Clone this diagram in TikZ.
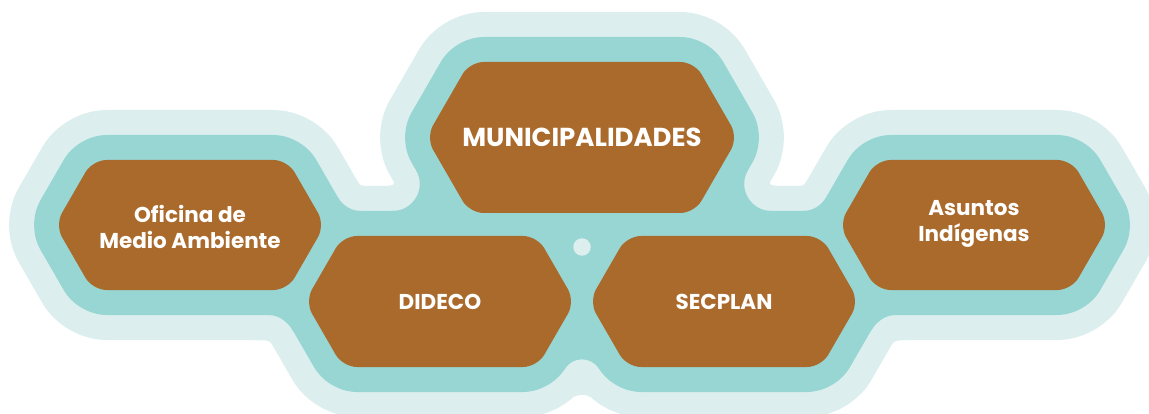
\documentclass[tikz,border=0pt]{standalone}
\usepackage{fontspec}
\setmainfont{Poppins}[BoldFont={Poppins Bold}]
\definecolor{brn}{HTML}{AA6A2C}
\definecolor{medteal}{HTML}{98D6D3}
\definecolor{lightteal}{HTML}{DCEFEE}
\newcommand\hexpath[4]{({#1-#3},#2) -- ({#1-#3+0.57735*#4},{#2-#4}) -- ({#1+#3-0.57735*#4},{#2-#4}) -- ({#1+#3},#2) -- ({#1+#3-0.57735*#4},{#2+#4}) -- ({#1-#3+0.57735*#4},{#2+#4}) -- cycle}
\begin{document}
\begin{tikzpicture}[x=1pt,y=-1pt,
  halolight/.style={fill=lightteal,draw=lightteal,line width=100pt,line join=round,rounded corners=14pt},
  halomed/.style={fill=medteal,draw=medteal,line width=50pt,line join=round,rounded corners=14pt},
  hexbody/.style={fill=brn,rounded corners=14pt},
  lbl/.style={text=white,font=\bfseries\fontsize{21.5}{25.5}\selectfont,align=center,inner sep=0pt},
  biglbl/.style={text=white,font=\bfseries\fontsize{26}{30}\selectfont,inner sep=0pt}]
\useasboundingbox (0,0) rectangle (1149,414);
\clip (0,0) rectangle (1149,414);
\def\hexlist{190/225/135/65, 582/137.5/156/75.5, 440/301.5/135/65.5, 724/301.5/135/65.5, 974/225/135/65}
% light outer halo
\foreach \cx/\cy/\w/\h in \hexlist { \path[halolight] \hexpath{\cx}{\cy}{\w}{\h}; }
\fill[lightteal] (356.2,179.1) .. controls (360.2,186) .. (368.2,186) -- (368,195) -- (349,190) -- cycle;
\fill[lightteal] (807.8,179.1) .. controls (803.8,186) .. (795.8,186) -- (796,195) -- (815,190) -- cycle;
\fill[lightteal] (377,186) .. controls (397.8,186) .. (387,169.5) -- (407,175) -- (407,190) -- cycle;
\fill[lightteal] (787,186) .. controls (766.2,186) .. (777,169.5) -- (757,175) -- (757,190) -- cycle;
\fill[lightteal] (255,340) .. controls (271,340.3) .. (277,353) -- (287,340) -- (267,330) -- cycle;
\fill[lightteal] (909,340) .. controls (893,340.3) .. (887,353) -- (877,340) -- (897,330) -- cycle;
\fill[lightteal] (574,396.9) .. controls (576.9,394.2) and (587.1,394.2) .. (590,396.9) -- (594,388) -- (582,380) -- (570,388) -- cycle;
% medium halo
\foreach \cx/\cy/\w/\h in \hexlist { \path[halomed] \hexpath{\cx}{\cy}{\w}{\h}; }
\fill[medteal] (338,197.5) .. controls (342.8,205.9) and (351.7,211) .. (361.4,211) -- (361.4,221) -- (345.8,221) -- cycle;
\fill[medteal] (826,197.5) .. controls (821.2,205.9) and (812.3,211) .. (802.6,211) -- (802.6,221) -- (818.2,221) -- cycle;
\fill[medteal] (392.6,211) .. controls (413.5,211) and (426.55,188.4) .. (416.1,170.3) -- (443,214) -- cycle;
\fill[medteal] (771.4,211) .. controls (750.5,211) and (737.45,188.4) .. (747.9,170.3) -- (721,214) -- cycle;
\fill[medteal] (269,315) .. controls (278.2,315) and (287.5,321.3) .. (293.5,331.5) -- (300,312) -- (272,305) -- cycle;
\fill[medteal] (895,315) .. controls (885.8,315) and (876.5,321.3) .. (870.5,331.5) -- (864,312) -- (892,305) -- cycle;
\fill[medteal] (564.7,369.3) .. controls (572.4,356) and (591.6,356) .. (599.3,369.3) -- (582,334) -- cycle;
\fill[medteal] (560,236) -- (604,236) -- (582,275) -- cycle;
\node[circle,fill=lightteal,minimum size=17.5pt,inner sep=0pt] (dot) at (582,247) {};
% hexagons
\foreach \cx/\cy/\w/\h in \hexlist { \path[hexbody] \hexpath{\cx}{\cy}{\w}{\h}; }
% labels
\node[biglbl] (mun) at (582,137.5) {MUNICIPALIDADES};
\node[lbl] (ofi) at (190,227) {Oficina de\\Medio Ambiente};
\node[lbl] (did) at (440,301.5) {DIDECO};
\node[lbl] (sec) at (724,301.5) {SECPLAN};
\node[lbl] (asu) at (974,224) {Asuntos\\Indígenas};
\end{tikzpicture}
\end{document}
